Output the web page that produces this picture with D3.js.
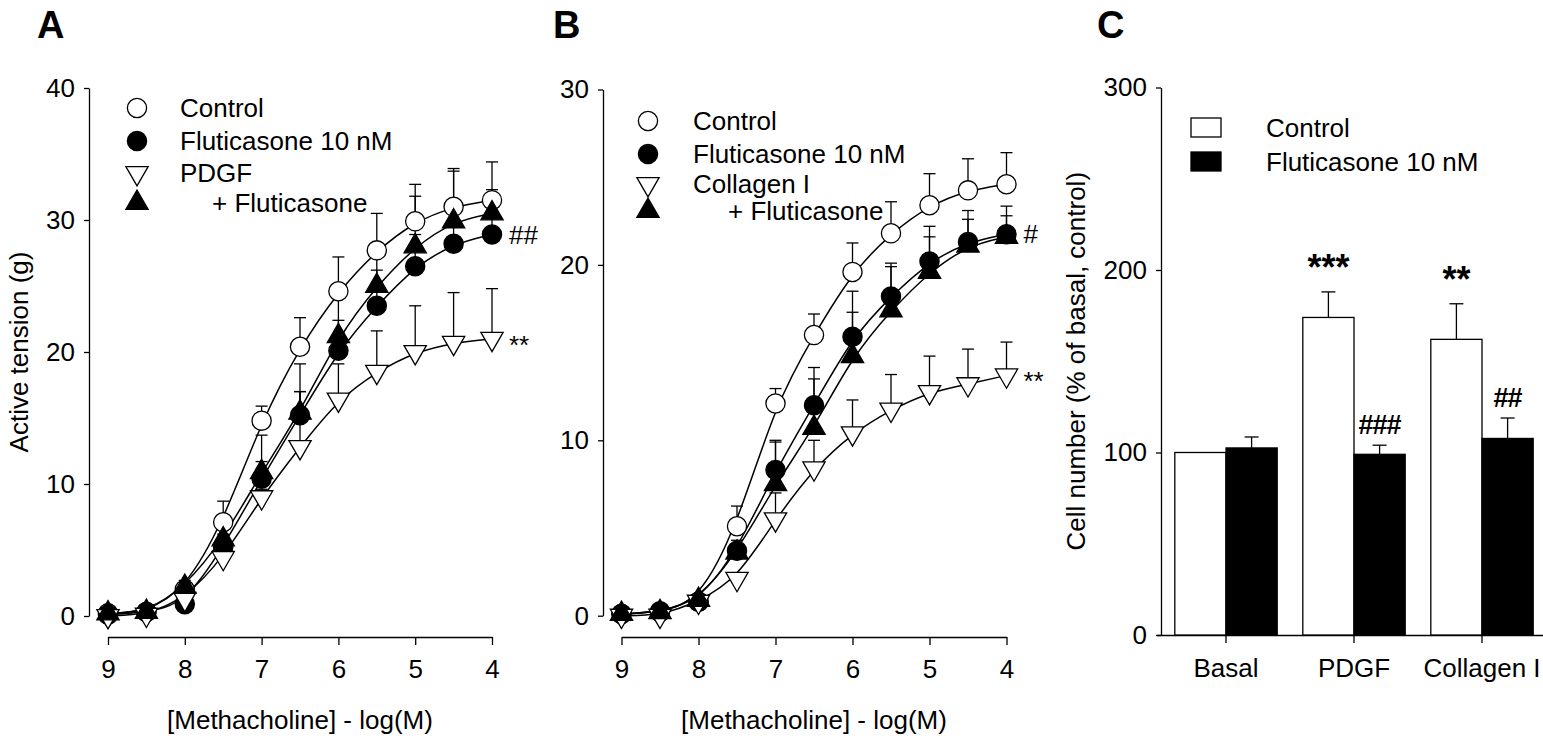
<!DOCTYPE html>
<html>
<head>
<meta charset="utf-8">
<script src="https://cdn.jsdelivr.net/npm/d3@7"></script>
<style>
  body { margin: 0; background: #fff; }
  svg { display: block; font-family: "Liberation Sans", Arial, sans-serif; }
</style>
</head>
<body>
<div id="chart"></div>
<script>
// -log[Methacholine] doses (shared by A and B)
const doses = [9, 8.5, 8, 7.5, 7, 6.5, 6, 5.5, 5, 4.5, 4]
const doseTicks = [9, 8, 7, 6, 5, 4]

// panel A - PDGF
const aControl = [0.2, 0.3, 2.0, 7.1, 14.8, 20.4, 24.6, 27.7, 29.9, 31.0, 31.5]
const aControlErr = [0, 0, 0.5, 1.6, 1.1, 2.2, 2.6, 2.8, 2.8, 2.9, 2.9]
const aFluticasone = [0.1, 0.3, 0.9, 5.2, 10.4, 15.2, 20.1, 23.5, 26.5, 28.2, 28.9]
const aFluticasoneErr = [0, 0, 0.3, 1.0, 1.3, 1.8, 2.3, 2.7, 2.4, 2.4, 2.3]
const aPdgf = [0.0, 0.1, 1.3, 4.4, 9.0, 12.8, 16.4, 18.5, 20.0, 20.7, 21.0]
const aPdgfErr = [0, 0, 0.3, 0.5, 0.6, 4.2, 2.7, 3.1, 3.5, 3.8, 3.8]
const aPdgfFluticasone = [0.2, 0.3, 2.2, 5.8, 10.9, 15.4, 21.2, 25.0, 28.0, 29.9, 30.5]
const aPdgfFluticasoneErr = [0, 0, 0.5, 1.3, 2.8, 3.7, 3.4, 3.0, 3.8, 3.8, 1.8]
const aTicks = [0, 10, 20, 30, 40]

// panel B - Collagen I
const bControl = [0.1, 0.2, 0.8, 5.1, 12.1, 16.0, 19.6, 21.8, 23.4, 24.25, 24.6]
const bControlErr = [0, 0, 0.2, 1.15, 0.85, 1.2, 1.65, 1.8, 1.8, 1.8, 1.8]
const bFluticasone = [0.1, 0.25, 0.8, 3.7, 8.3, 12.0, 15.9, 18.2, 20.2, 21.3, 21.75]
const bFluticasoneErr = [0, 0, 0.2, 0.6, 1.7, 2.15, 2.6, 1.9, 2.0, 1.8, 1.6]
const bCollagen = [0.0, 0.0, 0.8, 2.1, 5.5, 8.4, 10.4, 11.75, 12.75, 13.2, 13.7]
const bCollagenErr = [0, 0, 0.2, 0.3, 1.5, 1.6, 1.9, 2.0, 2.05, 2.0, 1.9]
const bCollagenFluticasone = [0.1, 0.2, 0.9, 3.6, 7.5, 10.7, 14.8, 17.4, 19.6, 21.1, 21.6]
const bCollagenFluticasoneErr = [0, 0, 0.2, 0.5, 2.4, 2.8, 2.5, 2.5, 2.0, 1.5, 1.2]
const bTicks = [0, 10, 20, 30]

// panel C - cell number
const cCategories = ['Basal', 'PDGF', 'Collagen I']
const cGroups = ['Control', 'Fluticasone 10 nM']
const cControl = [100, 174, 162]
const cControlErr = [0, 14, 19.5]
const cFluticasone = [102.5, 99, 107.7]
const cFluticasoneErr = [6, 5, 11.2]
const cControlMarks = ['', '***', '**']
const cFluticasoneMarks = ['', '###', '##']
const cTicks = [0, 100, 200, 300]

const W = 1543, H = 742
const svg = d3.select('#chart').append('svg').attr('width', W).attr('height', H)

const FS = 26

function symbolPath(kind){
    const size = kind === 'circle' ? 290 : 215
    const type = kind === 'circle' ? d3.symbolCircle : d3.symbolTriangle
    return d3.symbol().type(type).size(size)()
}

function styleAxis(a){
    a.select('.domain').attr('stroke', '#000').attr('stroke-width', 1.3)
    a.selectAll('.tick line').attr('stroke', '#000').attr('stroke-width', 1.3)
    a.selectAll('text').attr('font-size', FS).attr('font-family', 'Liberation Sans, Arial').attr('fill', '#000')
}

function curvePanel(opt){
    const g = svg.append('g')
    const x = d3.scaleLinear().domain([9, 4]).range(opt.xr)
    const y = d3.scaleLinear().domain([0, opt.ymax]).range(opt.yr)

    const ya = g.append('g')
        .attr('transform', `translate(${opt.yAxisX},0)`)
        .call(d3.axisLeft(y).tickValues(opt.ticks).tickFormat(d3.format('d')).tickSize(5).tickPadding(9).tickSizeOuter(0))
    const xa = g.append('g')
        .attr('transform', `translate(0,${opt.xAxisY})`)
        .call(d3.axisBottom(x).tickValues(doseTicks).tickFormat(d3.format('d')).tickSize(8).tickPadding(15).tickSizeOuter(0))
    styleAxis(ya)
    styleAxis(xa)

    if (opt.yTitle) {
        g.append('text')
            .attr('transform', `translate(${opt.yTitleX},${(opt.yr[0] + opt.yr[1]) / 2}) rotate(-90)`)
            .attr('text-anchor', 'middle').attr('font-size', FS)
            .text(opt.yTitle)
    }
    g.append('text')
        .attr('x', (opt.xr[0] + opt.xr[1]) / 2).attr('y', 729)
        .attr('text-anchor', 'middle').attr('font-size', FS)
        .text('[Methacholine] - log(M)')
    g.append('text')
        .attr('x', opt.letterX).attr('y', 38)
        .attr('font-size', 38).attr('font-weight', 'bold')
        .text(opt.letter)

    const line = d3.line().x(d => x(d.dose)).y(d => y(d.v)).curve(d3.curveBasis)

    const series = opt.series.map(s => ({
        ...s,
        pts: doses.map((dose, i) => ({dose, v: s.values[i], e: s.err[i]}))
    }))

    // error bars (upper only)
    series.forEach(s => {
        const eb = g.append('g').attr('stroke', '#000').attr('stroke-width', 1.3)
        s.pts.filter(p => p.e > 0).forEach(p => {
            eb.append('line').attr('x1', x(p.dose)).attr('x2', x(p.dose))
                .attr('y1', y(p.v)).attr('y2', y(p.v + p.e))
            eb.append('line').attr('x1', x(p.dose) - 6).attr('x2', x(p.dose) + 6)
                .attr('y1', y(p.v + p.e)).attr('y2', y(p.v + p.e))
        })
    })
    // fitted curves
    series.forEach(s => {
        g.append('path').datum(s.pts).attr('d', line)
            .attr('fill', 'none').attr('stroke', '#000').attr('stroke-width', 1.5)
    })
    // markers
    series.forEach(s => {
        g.append('g').selectAll('path').data(s.pts).join('path')
            .attr('d', symbolPath(s.shape))
            .attr('transform', p => `translate(${x(p.dose)},${y(p.v)})` + (s.down ? ' rotate(180)' : ''))
            .attr('fill', s.filled ? '#000' : '#fff')
            .attr('stroke', '#000').attr('stroke-width', 1.3)
    })
    // significance marks at the last dose
    opt.marks.forEach(m => {
        g.append('text')
            .attr('x', x(4) + 17).attr('y', y(m.v) + m.dy)
            .attr('font-size', FS)
            .text(m.text)
    })
    // legend
    const lg = g.append('g')
    opt.series.forEach((s, i) => {
        const ly = opt.legend.y[i]
        lg.append('path').attr('d', symbolPath(s.shape))
            .attr('transform', `translate(${opt.legend.x},${ly})` + (s.down ? ' rotate(180)' : ''))
            .attr('fill', s.filled ? '#000' : '#fff')
            .attr('stroke', '#000').attr('stroke-width', 1.3)
        lg.append('text')
            .attr('x', opt.legend.tx + (s.indent ? opt.legend.indent : 0)).attr('y', ly + 9)
            .attr('font-size', FS)
            .text(s.name)
    })
}

curvePanel({
    letter: 'A', letterX: 37,
    xr: [108, 492], yr: [616, 88], ymax: 40, ticks: aTicks,
    yAxisX: 89, xAxisY: 637, yTitleX: 28,
    yTitle: 'Active tension (g)',
    series: [
        {name: 'Control', values: aControl, err: aControlErr, shape: 'circle', filled: false},
        {name: 'Fluticasone 10 nM', values: aFluticasone, err: aFluticasoneErr, shape: 'circle', filled: true},
        {name: 'PDGF', values: aPdgf, err: aPdgfErr, shape: 'triangle', filled: false, down: true},
        {name: '+ Fluticasone', values: aPdgfFluticasone, err: aPdgfFluticasoneErr, shape: 'triangle', filled: true, indent: true}
    ],
    marks: [{text: '##', v: aFluticasone[10], dy: 9}, {text: '**', v: aPdgf[10], dy: 15}],
    legend: {x: 137, tx: 180, indent: 32, y: [108, 141, 173, 203]}
})

curvePanel({
    letter: 'B', letterX: 553,
    xr: [621.5, 1006.5], yr: [615.7, 89.5], ymax: 30, ticks: bTicks,
    yAxisX: 603, xAxisY: 637, yTitleX: 0,
    yTitle: '',
    series: [
        {name: 'Control', values: bControl, err: bControlErr, shape: 'circle', filled: false},
        {name: 'Fluticasone 10 nM', values: bFluticasone, err: bFluticasoneErr, shape: 'circle', filled: true},
        {name: 'Collagen I', values: bCollagen, err: bCollagenErr, shape: 'triangle', filled: false, down: true},
        {name: '+ Fluticasone', values: bCollagenFluticasone, err: bCollagenFluticasoneErr, shape: 'triangle', filled: true, indent: true}
    ],
    marks: [{text: '#', v: bFluticasone[10], dy: 9}, {text: '**', v: bCollagen[10], dy: 15}],
    legend: {x: 648, tx: 693, indent: 35, y: [121, 154, 184, 211]}
})

// panel C - grouped bars
;(function(){
    const g = svg.append('g')
    const x0 = d3.scaleBand().domain(cCategories).range([1162, 1546]).paddingInner(0.2).paddingOuter(0.1)
    const x1 = d3.scaleBand().domain(cGroups).range([0, x0.bandwidth()])
    const y = d3.scaleLinear().domain([0, 300]).range([635, 87.5])

    const ya = g.append('g').attr('transform', 'translate(1161,0)')
        .call(d3.axisLeft(y).tickValues(cTicks).tickSize(5).tickPadding(9).tickSizeOuter(0))
    const xa = g.append('g').attr('transform', 'translate(0,635)')
        .call(d3.axisBottom(x0).tickSize(8).tickPadding(16).tickSizeOuter(0))
    xa.select('.domain').attr('d', 'M1157,0.5H1543')
    xa.selectAll('.tick').attr('transform', d => `translate(${x0(d) + x0.bandwidth() / 2},0)`)
    styleAxis(ya)
    styleAxis(xa)

    g.append('text')
        .attr('transform', `translate(1085,${(635 + 87.5) / 2}) rotate(-90)`)
        .attr('text-anchor', 'middle').attr('font-size', FS)
        .text('Cell number (% of basal, control)')
    g.append('text').attr('x', 1097).attr('y', 38)
        .attr('font-size', 38).attr('font-weight', 'bold').text('C')

    const rows = cCategories.map((c, i) => [
        {c, grp: cGroups[0], v: cControl[i], e: cControlErr[i], mark: cControlMarks[i]},
        {c, grp: cGroups[1], v: cFluticasone[i], e: cFluticasoneErr[i], mark: cFluticasoneMarks[i]}
    ]).flat()

    const bx = d => x0(d.c) + x1(d.grp)
    // error bars
    rows.filter(d => d.e > 0).forEach(d => {
        const cx = bx(d) + x1.bandwidth() / 2
        g.append('line').attr('x1', cx).attr('x2', cx).attr('y1', y(d.v)).attr('y2', y(d.v + d.e))
            .attr('stroke', '#000').attr('stroke-width', 1.3)
        g.append('line').attr('x1', cx - 7).attr('x2', cx + 7).attr('y1', y(d.v + d.e)).attr('y2', y(d.v + d.e))
            .attr('stroke', '#000').attr('stroke-width', 1.3)
    })
    g.append('g').selectAll('rect').data(rows).join('rect')
        .attr('x', bx).attr('width', x1.bandwidth())
        .attr('y', d => y(d.v)).attr('height', d => y(0) - y(d.v))
        .attr('fill', d => d.grp === cGroups[0] ? '#fff' : '#000')
        .attr('stroke', '#000').attr('stroke-width', 1.3)

    // significance marks
    rows.filter(d => d.mark).forEach(d => {
        const star = d.mark.startsWith('*')
        g.append('text')
            .attr('x', bx(d) + x1.bandwidth() / 2)
            .attr('y', y(d.v + d.e) - (star ? 12 : 11))
            .attr('text-anchor', 'middle')
            .attr('font-size', star ? 36 : 27).attr('font-weight', 'bold')
            .attr('letter-spacing', star ? 0 : -1)
            .text(d.mark)
    })

    // legend
    cGroups.forEach((grp, i) => {
        g.append('rect').attr('x', 1191).attr('y', 118 + i * 34).attr('width', 30).attr('height', 19)
            .attr('fill', i === 0 ? '#fff' : '#000').attr('stroke', '#000').attr('stroke-width', 1.3)
        g.append('text').attr('x', 1266).attr('y', 137 + i * 34).attr('font-size', FS).text(grp)
    })
})()
</script>
</body>
</html>
